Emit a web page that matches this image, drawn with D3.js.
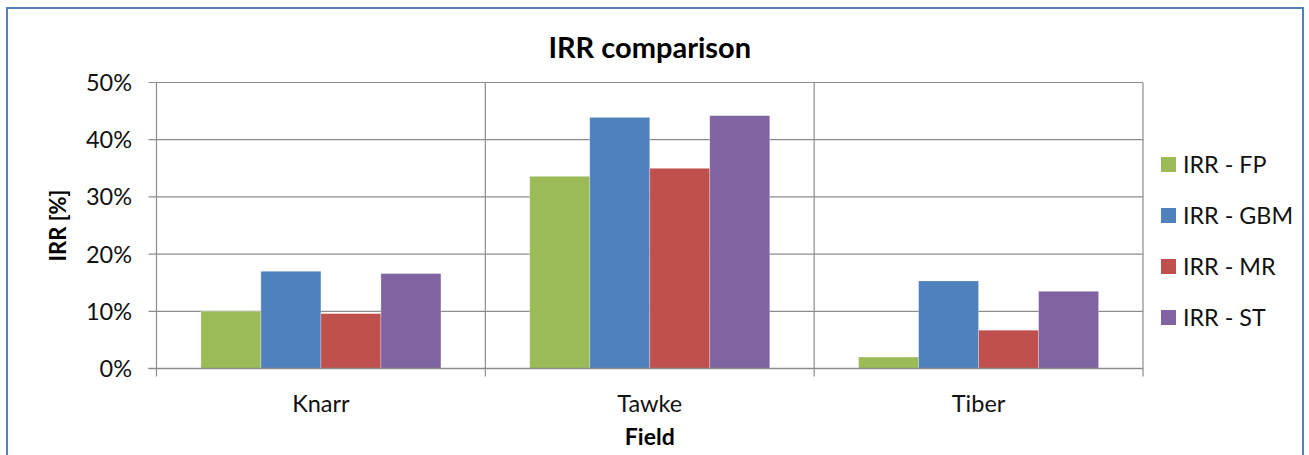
<!DOCTYPE html>
<html>
<head>
<meta charset="utf-8">
<title>IRR comparison</title>
<style>
  body { margin: 0; background: #fff; }
  svg { display: block; font-family: Lato, "Open Sans", sans-serif; }
  .grid line { stroke: #8c8c8c; stroke-width: 1.2; }
</style>
<script src="https://d3js.org/d3.v7.min.js"></script>
</head>
<body>
<svg id="chart" width="1309" height="455"></svg>
<script>
// data
var fields = ["Knarr", "Tawke", "Tiber"];
var series = ["IRR - FP", "IRR - GBM", "IRR - MR", "IRR - ST"];
var colors = ["#9bbb59", "#4f81bd", "#c0504d", "#8064a2"];
var irrFP  = [0.100, 0.336, 0.020];
var irrGBM = [0.170, 0.439, 0.153];
var irrMR  = [0.096, 0.350, 0.067];
var irrST  = [0.166, 0.442, 0.135];
var yTicks = [0, 0.1, 0.2, 0.3, 0.4, 0.5];

var values = [irrFP, irrGBM, irrMR, irrST];

var svg = d3.select("#chart");

// outer frame
svg.append("rect")
  .attr("x", 7).attr("y", 8)
  .attr("width", 1296).attr("height", 460)
  .attr("fill", "#fff")
  .attr("stroke", "#4f81bd")
  .attr("stroke-width", 2);

var pLeft = 156.5, pRight = 1143, pTop = 82.5, pBottom = 368.5;

var x0 = d3.scaleBand().domain(fields).range([pLeft, pRight]).paddingInner(0).paddingOuter(0);
var x1 = d3.scaleBand().domain(series).range([0, x0.bandwidth()])
  .paddingInner(0).paddingOuter(0.74);
var y = d3.scaleLinear().domain([0, 0.5]).range([pBottom, pTop]);

// horizontal grid
svg.append("g").attr("class", "grid")
  .selectAll("line").data(yTicks).join("line")
  .attr("x1", pLeft - 8).attr("x2", pRight)
  .attr("y1", function(d) { return y(d); })
  .attr("y2", function(d) { return y(d); });

// vertical category lines
var seps = [pLeft].concat(fields.map(function(f) { return x0(f) + x0.bandwidth(); }));
svg.append("g").attr("class", "grid")
  .selectAll("line").data(seps).join("line")
  .attr("x1", function(d) { return d; }).attr("x2", function(d) { return d; })
  .attr("y1", pTop).attr("y2", pBottom + 8);

// bars
series.forEach(function(s, i) {
  svg.append("g")
    .selectAll("rect").data(values[i]).join("rect")
    .attr("x", function(d, j) { return x0(fields[j]) + x1(s); })
    .attr("y", function(d) { return y(d); })
    .attr("width", x1.bandwidth())
    .attr("height", function(d) { return pBottom - y(d); })
    .attr("fill", colors[i])
    .attr("stroke", "#ffffff").attr("stroke-opacity", 0.35).attr("stroke-width", 0.8);
});

// redraw zero axis on top
svg.append("line")
  .attr("x1", pLeft - 8).attr("x2", pRight)
  .attr("y1", pBottom).attr("y2", pBottom)
  .attr("stroke", "#8c8c8c").attr("stroke-width", 1.5);

// y tick labels
svg.append("g")
  .selectAll("text").data(yTicks).join("text")
  .attr("x", 132)
  .attr("y", function(d) { return y(d); })
  .attr("dy", "0.36em")
  .attr("text-anchor", "end")
  .attr("font-size", 23.5)
  .attr("fill", "#111")
  .text(d3.format(".0%"));

// x labels
svg.append("g")
  .selectAll("text").data(fields).join("text")
  .attr("x", function(d) { return x0(d) + x0.bandwidth() / 2; })
  .attr("y", 412)
  .attr("text-anchor", "middle")
  .attr("font-size", 23.5)
  .attr("fill", "#111")
  .text(function(d) { return d; });

// titles
svg.append("text")
  .attr("x", (pLeft + pRight) / 2).attr("y", 58)
  .attr("text-anchor", "middle")
  .attr("font-size", 29).attr("font-weight", "bold")
  .text("IRR comparison");

svg.append("text")
  .attr("x", (pLeft + pRight) / 2).attr("y", 445)
  .attr("text-anchor", "middle")
  .attr("font-size", 23).attr("font-weight", "bold")
  .text("Field");

svg.append("text")
  .attr("transform", "translate(66," + ((pTop + pBottom) / 2) + ") rotate(-90)")
  .attr("text-anchor", "middle")
  .attr("font-size", 22).attr("font-weight", "bold")
  .text("IRR [%]");

// legend
var legend = svg.append("g")
  .selectAll("g").data(series).join("g")
  .attr("transform", function(d, i) { return "translate(1161," + (157 + i * 51) + ")"; });
legend.append("rect")
  .attr("width", 15).attr("height", 15)
  .attr("fill", function(d, i) { return colors[i]; });
legend.append("text")
  .attr("x", 22).attr("y", 7.5).attr("dy", "0.36em")
  .attr("font-size", 23.3)
  .attr("fill", "#111")
  .text(function(d) { return d; });
</script>
</body>
</html>
